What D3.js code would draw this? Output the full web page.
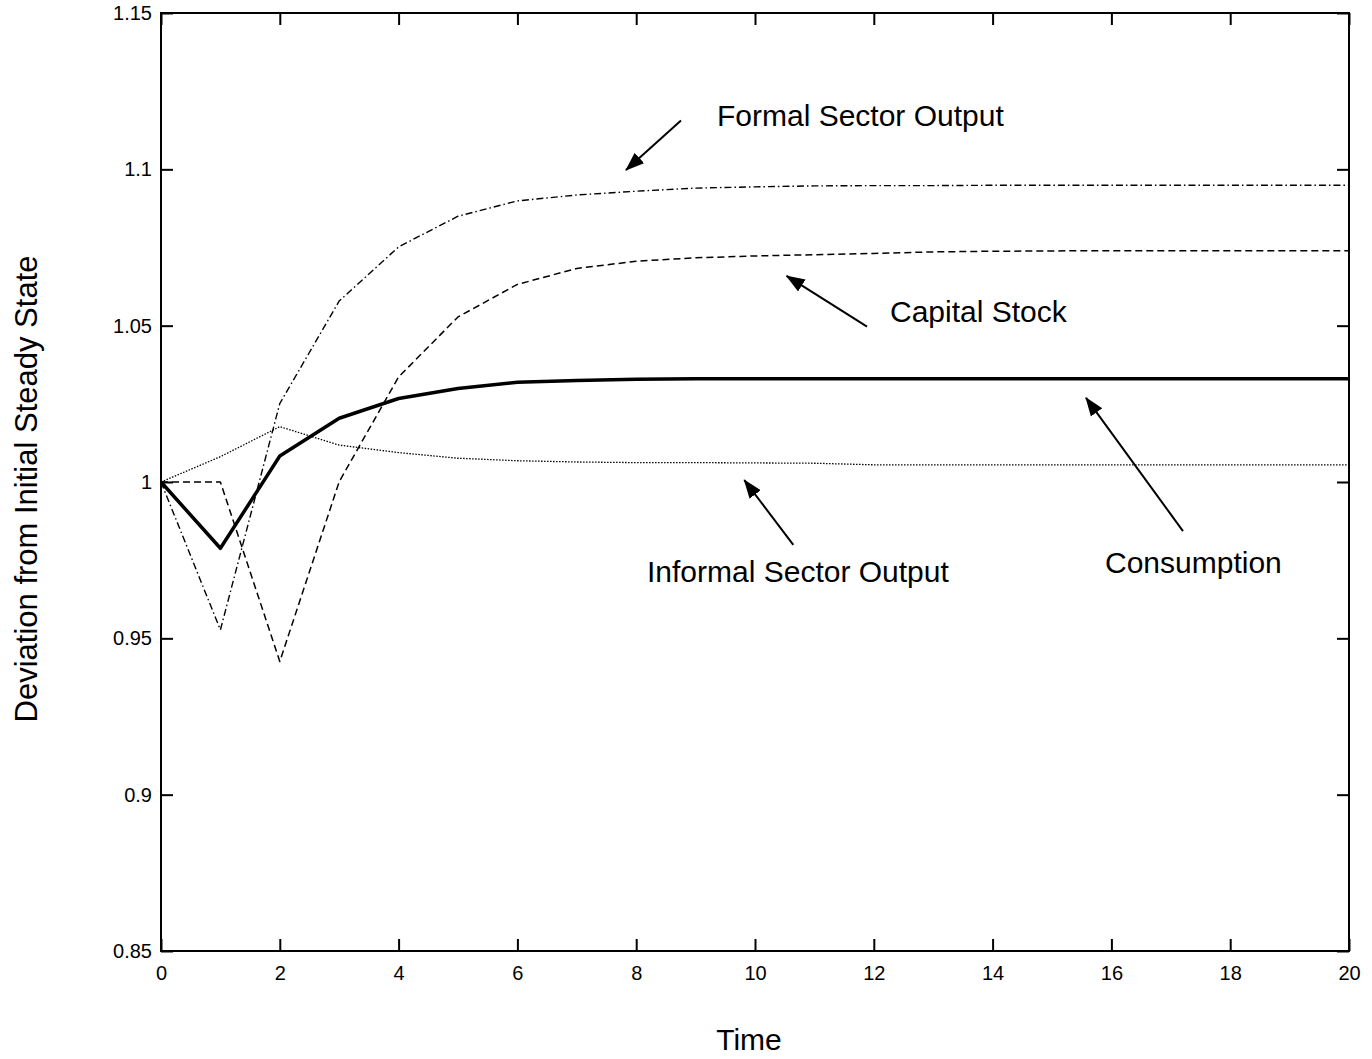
<!DOCTYPE html>
<html>
<head>
<meta charset="utf-8">
<script src="https://cdn.jsdelivr.net/npm/d3@7"></script>
<style>
  html, body { margin: 0; padding: 0; background: #fff; }
  svg { display: block; font-family: Arial, "Liberation Sans", Helvetica, sans-serif; }
</style>
</head>
<body>
<svg id="chart" width="1372" height="1059"></svg>
<script>
// Periods after the shock
const time = d3.range(0, 21);

// Paths relative to the initial steady state (1 = no change)
const consumption = [1.0, 0.9788, 1.0083, 1.0204, 1.0267, 1.0299, 1.0319, 1.0325, 1.0329, 1.033, 1.033,
  1.033, 1.033, 1.033, 1.033, 1.033, 1.033, 1.033, 1.033, 1.033, 1.033];
const formalOutput = [1.0, 0.9527, 1.0251, 1.0579, 1.0752, 1.0850, 1.0899, 1.0918, 1.0930, 1.0940, 1.0944,
  1.0947, 1.0948, 1.0948, 1.0949, 1.0949, 1.0949, 1.0949, 1.0949, 1.0949, 1.0949];
const capitalStock = [1.0, 1.0, 0.9426, 1.0001, 1.0336, 1.0528, 1.0632, 1.0683, 1.0706, 1.0717, 1.0723,
  1.0727, 1.0731, 1.0736, 1.0738, 1.0739, 1.074, 1.074, 1.074, 1.074, 1.074];
const informalOutput = [1.0, 1.0081, 1.0177, 1.0118, 1.0094, 1.0076, 1.0068, 1.0064, 1.0062, 1.0062, 1.0061,
  1.0060, 1.0055, 1.0055, 1.0055, 1.0055, 1.0055, 1.0055, 1.0055, 1.0055, 1.0055];

// Axis ticks
const xTicks = [0, 2, 4, 6, 8, 10, 12, 14, 16, 18, 20];
const yTicks = [0.85, 0.9, 0.95, 1, 1.05, 1.1, 1.15];
const yTickLabels = ["0.85", "0.9", "0.95", "1", "1.05", "1.1", "1.15"];

// Labelled arrows, in data units: text anchor, arrow tail, arrow tip
const annotations = [
  { label: "Formal Sector Output",   text: [9.36, 1.1139],  from: [8.754, 1.1156],  to: [7.828, 1.0998] },
  { label: "Capital Stock",          text: [12.273, 1.0512], from: [11.886, 1.0497], to: [10.532, 1.0659] },
  { label: "Consumption",            text: [15.892, 0.9709], from: [17.205, 0.9843], to: [15.572, 1.0269] },
  { label: "Informal Sector Output", text: [8.182, 0.9680],  from: [10.645, 0.9799], to: [9.82, 1.0006] }
];

const series = [
  { name: "Formal Sector Output",   values: formalOutput,   width: 1.4, dash: "7,3,1.5,3" },
  { name: "Capital Stock",          values: capitalStock,   width: 1.5, dash: "7,4" },
  { name: "Informal Sector Output", values: informalOutput, width: 1.3, dash: "1.5,1.5" },
  { name: "Consumption",            values: consumption,    width: 3.5, dash: null }
];

const svg = d3.select("#chart");
const plotLeft = 161, plotRight = 1349, plotTop = 13, plotBottom = 951;

const x = d3.scaleLinear().domain([0, 20]).range([plotLeft, plotRight]);
const y = d3.scaleLinear().domain([0.85, 1.15]).range([plotBottom, plotTop]);

// Lines
const line = d3.line().x((d, i) => x(time[i])).y(d => y(d));
const plot = svg.append("g").attr("class", "series");
series.forEach(s => {
  plot.append("path")
    .datum(s.values)
    .attr("d", line)
    .attr("fill", "none")
    .attr("stroke", "#000")
    .attr("stroke-width", s.width)
    .attr("stroke-linejoin", "round")
    .attr("stroke-dasharray", s.dash);
});

// Axes: inward ticks on all four sides, labels on left and bottom
const fmtY = v => yTickLabels[yTicks.indexOf(v)];
const styleAxis = g => {
  g.selectAll(".domain").remove();
  g.selectAll(".tick line").attr("stroke", "#000").attr("stroke-width", 2);
  g.selectAll(".tick text").attr("fill", "#000").attr("font-size", 20).attr("font-family", "Arial, 'Liberation Sans', sans-serif");
};

svg.append("g").attr("transform", `translate(0,${plotBottom})`)
  .call(d3.axisBottom(x).tickValues(xTicks).tickFormat(d3.format("d")).tickSizeInner(-12).tickSizeOuter(0).tickPadding(15))
  .call(styleAxis);
svg.append("g").attr("transform", `translate(0,${plotTop})`)
  .call(d3.axisTop(x).tickValues(xTicks).tickFormat("").tickSizeInner(-12).tickSizeOuter(0))
  .call(styleAxis);
svg.append("g").attr("transform", `translate(${plotLeft},0)`)
  .call(d3.axisLeft(y).tickValues(yTicks).tickFormat(fmtY).tickSizeInner(-12).tickSizeOuter(0).tickPadding(9))
  .call(styleAxis);
svg.append("g").attr("transform", `translate(${plotRight},0)`)
  .call(d3.axisRight(y).tickValues(yTicks).tickFormat("").tickSizeInner(-12).tickSizeOuter(0))
  .call(styleAxis);

// Frame
svg.append("rect")
  .attr("x", plotLeft).attr("y", plotTop)
  .attr("width", plotRight - plotLeft).attr("height", plotBottom - plotTop)
  .attr("fill", "none").attr("stroke", "#000").attr("stroke-width", 2);

// Axis titles
svg.append("text")
  .attr("x", x(10) - 6).attr("y", 1050)
  .attr("text-anchor", "middle").attr("font-size", 30)
  .text("Time");
svg.append("text")
  .attr("transform", `translate(37,${(plotTop + plotBottom) / 2 + 7}) rotate(-90)`)
  .attr("text-anchor", "middle").attr("font-size", 31)
  .text("Deviation from Initial Steady State");

// Arrowhead
svg.append("defs").append("marker")
  .attr("id", "head")
  .attr("markerUnits", "userSpaceOnUse")
  .attr("viewBox", "0 -8 19 16")
  .attr("refX", 18).attr("refY", 0)
  .attr("markerWidth", 19).attr("markerHeight", 16)
  .attr("orient", "auto")
  .append("path")
  .attr("d", "M0,-7L19,0L0,7Z")
  .attr("fill", "#000");

// Annotations
const notes = svg.append("g").attr("class", "annotations");
annotations.forEach(a => {
  notes.append("line")
    .attr("x1", x(a.from[0])).attr("y1", y(a.from[1]))
    .attr("x2", x(a.to[0])).attr("y2", y(a.to[1]))
    .attr("stroke", "#000").attr("stroke-width", 2)
    .attr("marker-end", "url(#head)");
  notes.append("text")
    .attr("x", x(a.text[0])).attr("y", y(a.text[1]))
    .attr("font-size", 30)
    .text(a.label);
});
</script>
</body>
</html>
